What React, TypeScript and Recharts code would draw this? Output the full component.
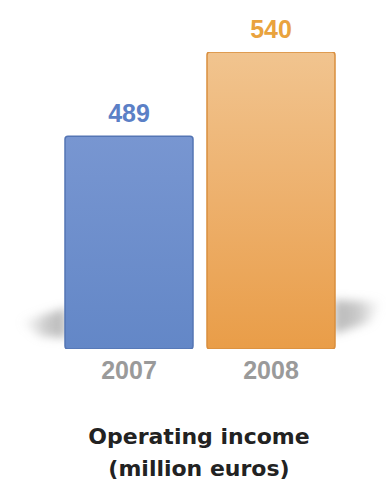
import React from "react";
import { Bar, BarChart, Cell, LabelList, XAxis, YAxis } from "recharts";

// Operating income, million euros
const YEARS = ["2007", "2008"];
const INCOME = [489, 540];
const BAR_COLORS = ["url(#gBlue)", "url(#gOrange)"];
const EDGE_COLORS = ["#5475b4", "#d98e3e"];
const LABEL_COLORS = ["#5b80c6", "#e9a33e"];

const data = YEARS.map((year, i) => ({ year, income: INCOME[i] }));

const FONT = "'Liberation Sans', Arial, sans-serif";

function YearTick({ x, y, payload }: any) {
  return (
    <text x={x} y={y} dy={30} textAnchor="middle" fill="#9a9a9a" fontFamily={FONT} fontWeight={700} fontSize={25}>
      {payload.value}
    </text>
  );
}

function ValueLabel({ x, y, width, value, index }: any) {
  return (
    <text
      x={x + width / 2}
      y={y - 14}
      textAnchor="middle"
      fill={LABEL_COLORS[index]}
      fontFamily={FONT}
      fontWeight={700}
      fontSize={25}
    >
      {value}
    </text>
  );
}

export default function App() {
  return (
    <div style={{ position: "absolute", left: 0, top: 0, width: 386, height: 489, background: "#fff", overflow: "hidden" }}>
      {/* soft floor shadow behind the bars */}
      <svg width={386} height={489} style={{ position: "absolute", left: 0, top: 0 }}>
        <defs>
          <filter id="blur" x="-20%" y="-50%" width="140%" height="200%">
            <feGaussianBlur stdDeviation="5" />
          </filter>
          <linearGradient id="shL" x1="0" y1="0" x2="1" y2="0">
            <stop offset="0" stopColor="#bbb" stopOpacity={0} />
            <stop offset="0.6" stopColor="#a5a5a5" stopOpacity={0.6} />
            <stop offset="1" stopColor="#a0a0a0" stopOpacity={0.75} />
          </linearGradient>
          <linearGradient id="shR" x1="0" y1="0" x2="1" y2="0">
            <stop offset="0" stopColor="#a0a0a0" stopOpacity={0.75} />
            <stop offset="0.5" stopColor="#a5a5a5" stopOpacity={0.6} />
            <stop offset="1" stopColor="#bbb" stopOpacity={0} />
          </linearGradient>
        </defs>
        <polygon points="20,322 66,308 66,338 40,336" fill="url(#shL)" filter="url(#blur)" />
        <polygon points="334,300 382,302 370,322 334,334" fill="url(#shR)" filter="url(#blur)" />
      </svg>
      <div style={{ position: "absolute", left: 0, top: 0 }}>
        <BarChart width={386} height={400} data={data} margin={{ top: 52, right: 44, left: 58, bottom: 11 }}>
          <defs>
            <linearGradient id="gBlue" x1="0" y1="0" x2="0" y2="1">
              <stop offset="0" stopColor="#7896d1" />
              <stop offset="1" stopColor="#6387c7" />
            </linearGradient>
            <linearGradient id="gOrange" x1="0" y1="0" x2="0" y2="1">
              <stop offset="0" stopColor="#f1c48f" />
              <stop offset="0.5" stopColor="#edb06c" />
              <stop offset="1" stopColor="#e99d48" />
            </linearGradient>
          </defs>
          <XAxis
            dataKey="year"
            axisLine={false}
            tickLine={false}
            tickSize={0}
            tickMargin={0}
            height={40}
            tick={<YearTick />}
            interval={0}
          />
          <YAxis hide domain={[360, 540]} allowDataOverflow />
          <Bar dataKey="income" barSize={128} radius={3} isAnimationActive={false}>
            {data.map((_, i) => (
              <Cell key={i} fill={BAR_COLORS[i]} stroke={EDGE_COLORS[i]} strokeWidth={1.5} />
            ))}
            <LabelList dataKey="income" content={<ValueLabel />} />
          </Bar>
        </BarChart>
      </div>
      <div
        style={{
          position: "absolute",
          left: 0,
          top: 421,
          width: 398,
          textAlign: "center",
          fontFamily: "'DejaVu Sans', sans-serif",
          fontWeight: 700,
          fontSize: 22,
          lineHeight: "32px",
          color: "#222",
        }}
      >
        Operating income
        <br />
        (million euros)
      </div>
    </div>
  );
}
